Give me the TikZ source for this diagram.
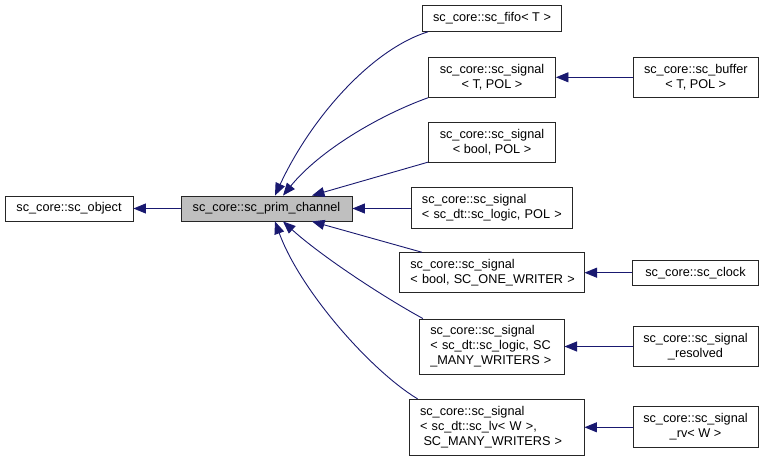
\documentclass[tikz,border=0pt]{standalone}
\usepackage{fontspec}
\setmainfont{Liberation Sans}
\usetikzlibrary{arrows.meta}
\definecolor{edgeblue}{HTML}{191970}
\definecolor{basegray}{HTML}{BFBFBF}

\begin{document}
\begin{tikzpicture}[x=1pt,y=-1pt,
  cls/.style={draw=black!85, line width=0.9pt, fill=white, inner sep=0pt,
    font=\fontsize{12.7}{15}\selectfont, align=center},
  clsl/.style={cls, align=left, inner xsep=11pt, text width=#1},
  inh/.style={draw=edgeblue, line width=0.9pt, <-, >={Triangle[length=12.5pt,width=10pt]}}]
  \fill[white] (0,0) rectangle (765,460);
  \useasboundingbox (0,0) rectangle (765,460);

  \node[cls, minimum width=128pt, minimum height=25pt] (obj) at (69,208.5) {sc\_core::sc\_object};
  \node[cls, fill=basegray, minimum width=171pt, minimum height=25pt] (prim) at (266.5,208.5) {sc\_core::sc\_prim\_channel};

  \node[cls, minimum width=139pt, minimum height=26pt] (fifo) at (492,18.3) {sc\_core::sc\_fifo< T >};
  \node[cls, minimum width=127pt, minimum height=40pt] (sigtpol) at (492,77.3) {sc\_core::sc\_signal\\< T, POL >};
  \node[cls, minimum width=127pt, minimum height=40pt] (sigboolpol) at (492,142.7) {sc\_core::sc\_signal\\< bool, POL >};
  \node[clsl=139.7pt, minimum height=40.6pt] (siglogicpol) at (491.8,208) {sc\_core::sc\_signal\\\mbox{< sc\_dt::sc\_logic, POL >}};
  \node[clsl=162.7pt, minimum height=40pt] (sigonewr) at (491.7,272.7) {sc\_core::sc\_signal\\\mbox{< bool, SC\_ONE\_WRITER >}};
  \node[clsl=122.7pt, minimum height=55pt] (sigmany) at (491.7,346.5) {sc\_core::sc\_signal\\\mbox{< sc\_dt::sc\_logic, SC}\\\_MANY\_WRITERS >};
  \node[clsl=153pt, minimum height=56pt] (siglv) at (496.5,427.3) {sc\_core::sc\_signal\\< sc\_dt::sc\_lv< W >,\\\hspace*{3.5pt}\mbox{SC\_MANY\_WRITERS >}};

  \node[cls, minimum width=125pt, minimum height=40pt] (buffer) at (695.8,77.3) {sc\_core::sc\_buffer\\< T, POL >};
  \node[cls, minimum width=125.7pt, minimum height=24.3pt] (clock) at (695.5,272.8) {sc\_core::sc\_clock};
  \node[cls, minimum width=125pt, minimum height=40pt] (resolved) at (695.5,346.7) {sc\_core::sc\_signal\\\_resolved};
  \node[cls, minimum width=125pt, minimum height=40.3pt] (rv) at (695.5,426.8) {sc\_core::sc\_signal\\\_rv< W >};

  \draw[inh] (obj.east) -- (prim.west);
  \draw[inh] ([xshift=8.5pt]prim.north) .. controls (310,120) and (370,50) .. ([xshift=6pt]fifo.south west);
  \draw[inh] ([xshift=16.5pt]prim.north) .. controls (320,150) and (380,115) .. (sigtpol.south west);
  \draw[inh] ([xshift=45.5pt]prim.north) -- ([yshift=1pt]sigboolpol.south west);
  \draw[inh] (prim.east) -- (prim.east -| siglogicpol.west);
  \draw[inh] ([xshift=45.5pt]prim.south) -- ([xshift=23pt]sigonewr.north west);
  \draw[inh] ([xshift=16.5pt]prim.south) .. controls (320,255) and (380,295) .. ([xshift=4pt]sigmany.north west);
  \draw[inh] ([xshift=8.5pt]prim.south) .. controls (300,290) and (370,370) .. ([xshift=9pt]siglv.north west);

  \draw[inh] (sigtpol.east) -- (buffer.west);
  \draw[inh] (sigonewr.east) -- (sigonewr.east -| clock.west);
  \draw[inh] (sigmany.east) -- (sigmany.east -| resolved.west);
  \draw[inh] (siglv.east) -- (siglv.east -| rv.west);
\end{tikzpicture}
\end{document}
